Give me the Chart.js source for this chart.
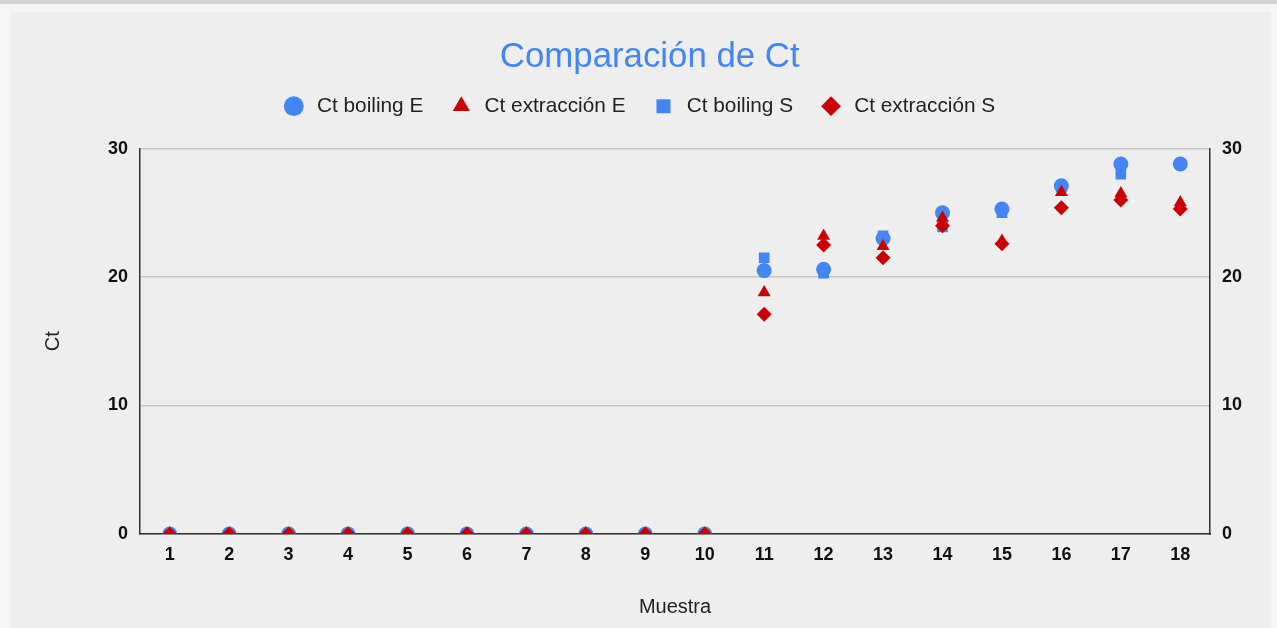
<!DOCTYPE html>
<html>
<head>
<meta charset="utf-8">
<script src="https://cdn.jsdelivr.net/npm/chart.js@4"></script>
<style>
    html, body { margin: 0; padding: 0; background: #f5f5f5; }
    #topbar { position: absolute; left: 0; top: 0; width: 1277px; height: 4px; background: #d2d3d5; }
    #card { position: absolute; left: 11px; top: 12px; width: 1260px; height: 616px; background: #eeeeee; }
</style>
</head>
<body>
<div id="topbar"></div>
<div id="card"><canvas id="chart"></canvas></div>
<script>
const muestras = ['1', '2', '3', '4', '5', '6', '7', '8', '9', '10', '11', '12', '13', '14', '15', '16', '17', '18'];
const ctBoilingE = [0, 0, 0, 0, 0, 0, 0, 0, 0, 0, 20.5, 20.6, 23.0, 25.0, 25.3, 27.1, 28.8, 28.8];
const ctExtraccionE = [0, 0, 0, 0, 0, 0, 0, 0, 0, 0, 18.8, 23.2, 22.4, 24.6, 22.8, 26.6, 26.5, 25.8];
const ctBoilingS = [0, 0, 0, 0, 0, 0, 0, 0, 0, 0, 21.5, 20.3, 23.2, 23.9, 25.0, 27.0, 28.0, 28.8];
const ctExtraccionS = [0, 0, 0, 0, 0, 0, 0, 0, 0, 0, 17.1, 22.5, 21.5, 24.0, 22.6, 25.4, 26.0, 25.3];
const yTicks = [0, 10, 20, 30];

const azul = '#4285f4';
const rojo = '#cc0000';
const fuente = "'Liberation Sans', Arial, sans-serif";

const canvas = document.getElementById('chart');
canvas.width = 1260;
canvas.height = 616;
canvas.style.width = '1260px';
canvas.style.height = '616px';
const ctx = canvas.getContext('2d');

function serie(label, data, color, estilo, radio, orden) {
    return {
        label: label,
        data: data,
        showLine: false,
        pointStyle: estilo,
        pointRadius: radio,
        pointHoverRadius: radio,
        pointBackgroundColor: color,
        pointBorderColor: color,
        pointBorderWidth: 0,
        backgroundColor: color,
        borderColor: color,
        borderWidth: 0,
        clip: 0,
        order: orden
    };
}

// espacio extra bajo la leyenda
const margenLeyenda = {
    id: 'margenLeyenda',
    beforeInit(chart) {
        const fitOrig = chart.legend.fit;
        chart.legend.fit = function () {
            fitOrig.bind(chart.legend)();
            this.height += 22;
        };
    }
};

const chart = new Chart(ctx, {
    type: 'line',
    data: {
        labels: muestras,
        datasets: [
            serie('Ct boiling E', ctBoilingE, azul, 'circle', 7.5, 3),
            serie('Ct extracción E', ctExtraccionE, rojo, 'triangle', 7.5, 2),
            serie('Ct boiling S', ctBoilingS, azul, 'rect', 7.5, 4),
            serie('Ct extracción S', ctExtraccionS, rojo, 'rectRot', 7.5, 1)
        ]
    },
    plugins: [margenLeyenda],
    options: {
        responsive: false,
        animation: false,
        layout: { padding: { left: 0, right: 0, top: 25, bottom: 0 } },
        plugins: {
            title: {
                display: true,
                text: '\u2002Comparación de Ct',
                color: azul,
                font: { family: fuente, size: 34.8, weight: 'normal' },
                padding: { top: 0, bottom: -14 }
            },
            legend: {
                display: true,
                labels: {
                    usePointStyle: true,
                    boxWidth: 14,
                    boxHeight: 14,
                    color: '#222222',
                    padding: 31,
                    font: { family: fuente, size: 20.8 },
                    sort: (a, b) => a.datasetIndex - b.datasetIndex,
                    generateLabels: (c) => Chart.defaults.plugins.legend.labels.generateLabels(c).map(it => {
                        it.text = ' ' + it.text;
                        return it;
                    })
                }
            },
            tooltip: { enabled: false }
        },
        scales: {
            x: {
                offset: true,
                grid: { display: false, drawTicks: false },
                border: { color: '#333333', width: 1.5 },
                ticks: { color: '#111111', font: { family: fuente, size: 18, weight: 'bold' }, padding: 10 },
                title: { display: true, text: 'Muestra', color: '#222222', font: { family: fuente, size: 20 }, padding: { top: 4, bottom: 9 } },
                afterFit: (s) => { s.height = 94; }
            },
            y: {
                min: 0,
                max: 30,
                afterBuildTicks: (s) => { s.ticks = yTicks.map(v => ({ value: v })); },
                grid: { color: '#c6c6c6', lineWidth: 1.5, drawTicks: false },
                border: { color: '#333333', width: 1.5 },
                ticks: { color: '#111111', font: { family: fuente, size: 18, weight: 'bold' }, padding: 12 },
                title: { display: true, text: 'Ct', color: '#222222', font: { family: fuente, size: 20 }, padding: { top: 30, bottom: 0 } },
                afterFit: (s) => { s.width = 129; }
            },
            y2: {
                position: 'right',
                min: 0,
                max: 30,
                afterBuildTicks: (s) => { s.ticks = yTicks.map(v => ({ value: v })); },
                grid: { drawOnChartArea: false, drawTicks: false },
                border: { color: '#333333', width: 1.5 },
                ticks: { color: '#111111', font: { family: fuente, size: 18, weight: 'bold' }, padding: 12 },
                afterFit: (s) => { s.width = 61; }
            }
        }
    }
});
</script>
</body>
</html>
